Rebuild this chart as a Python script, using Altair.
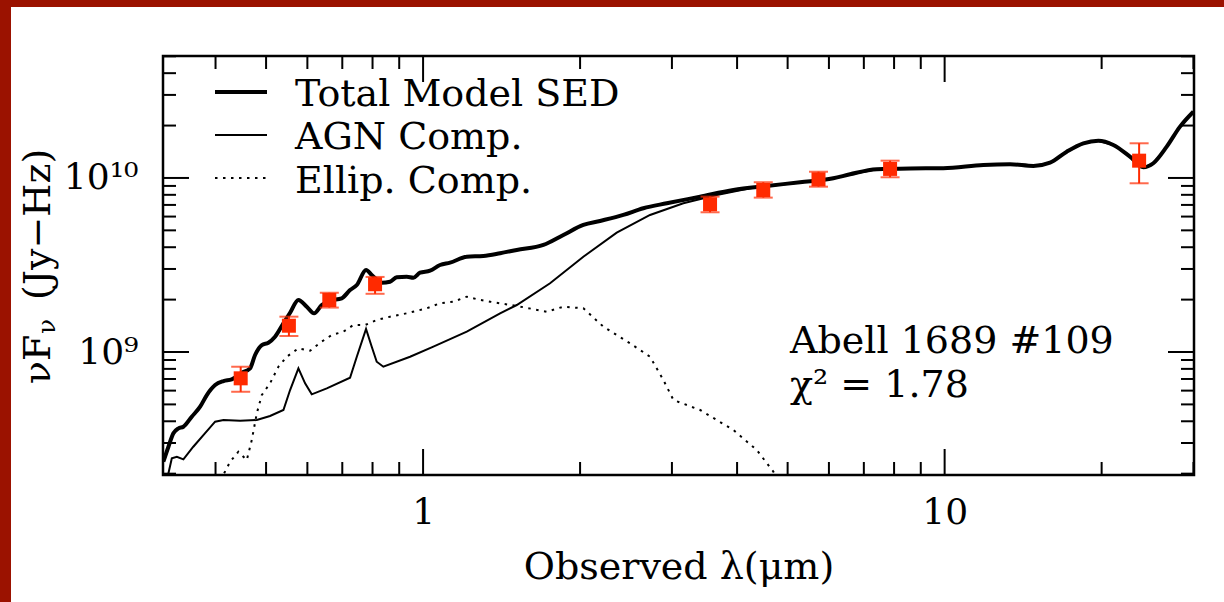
import altair as alt
import pandas as pd

# ---------------- data ----------------
tot_lam = [0.3177, 0.3249, 0.3321, 0.3396, 0.3471, 0.3601, 0.3737, 0.3849, 0.3993, 0.4143,
           0.4297, 0.4492, 0.4659, 0.4763, 0.4907, 0.5051, 0.5202, 0.5398, 0.5559, 0.5767,
           0.5984, 0.6180, 0.6393, 0.6633, 0.6983, 0.7244, 0.7463, 0.7774, 0.7972, 0.8332,
           0.8642, 0.8903, 0.9306, 0.9581, 0.9867, 1.0313, 1.0779, 1.1264, 1.2128, 1.3050,
           1.4049, 1.5122, 1.7008, 1.8578, 2.0291, 2.1842, 2.4210, 2.6449, 2.9324, 3.3973,
           3.9357, 4.5604, 5.2818, 6.1176, 6.5871, 7.4112, 8.5837, 9.9426, 11.866, 13.352,
           14.796, 15.926, 17.145, 18.450, 19.711, 21.060, 22.666, 24.044, 25.125, 26.659,
           28.271, 29.99]
tot_flux = [2.342e8, 2.856e8, 3.411e8, 3.643e8, 3.721e8, 4.249e8, 4.849e8, 5.660e8, 6.461e8, 6.812e8,
            6.967e8, 7.603e8, 8.059e8, 9.612e8, 1.097e9, 1.131e9, 1.224e9, 1.462e9, 1.682e9, 1.991e9,
            1.821e9, 1.669e9, 1.862e9, 1.972e9, 2.035e9, 2.271e9, 2.427e9, 2.960e9, 2.771e9, 2.502e9,
            2.535e9, 2.687e9, 2.709e9, 2.673e9, 2.856e9, 2.933e9, 3.162e9, 3.260e9, 3.529e9, 3.562e9,
            3.692e9, 3.857e9, 4.120e9, 4.703e9, 5.370e9, 5.661e9, 6.131e9, 6.697e9, 7.153e9, 7.807e9,
            8.531e9, 8.995e9, 9.447e9, 9.961e9, 1.050e10, 1.122e10, 1.134e10, 1.137e10, 1.188e10, 1.199e10,
            1.172e10, 1.224e10, 1.416e10, 1.582e10, 1.638e10, 1.548e10, 1.326e10, 1.152e10, 1.215e10, 1.513e10,
            1.972e10, 2.404e10]

agn_lam = [0.3249, 0.3298, 0.3372, 0.3471, 0.3626, 0.3791, 0.3993, 0.4143, 0.4458, 0.4799,
           0.5088, 0.5398, 0.5559, 0.5767, 0.5940, 0.6117, 0.6537, 0.7244, 0.7463, 0.7774,
           0.7972, 0.8149, 0.8391, 0.9442, 1.0465, 1.2128, 1.4049, 1.5122, 1.7518, 2.0291,
           2.3512, 2.7237, 3.1550, 3.6568, 4.2364, 4.5604, 5.2818, 6.1176, 6.5871, 7.4112,
           8.5837, 9.9426, 11.866, 13.352, 14.796, 15.926, 17.145, 18.450, 19.711, 21.060,
           22.666, 24.044, 25.125, 26.659, 28.271, 29.99]
agn_flux = [2.009e8, 2.449e8, 2.502e8, 2.417e8, 2.856e8, 3.334e8, 3.977e8, 4.067e8, 4.030e8, 4.067e8,
            4.288e8, 4.642e8, 6.046e8, 8.059e8, 6.610e8, 5.713e8, 6.186e8, 7.119e8, 9.397e8, 1.356e9,
            1.073e9, 8.796e8, 8.233e8, 9.397e8, 1.073e9, 1.308e9, 1.669e9, 1.862e9, 2.482e9, 3.529e9,
            4.848e9, 6.131e9, 7.153e9, 7.986e9, 8.726e9, 8.95e9, 9.42e9, 9.94e9, 1.048e10, 1.120e10,
            1.132e10, 1.135e10, 1.186e10, 1.197e10, 1.170e10, 1.222e10, 1.414e10, 1.580e10, 1.636e10, 1.546e10,
            1.324e10, 1.150e10, 1.213e10, 1.511e10, 1.970e10, 2.402e10]

ell_lam = [0.4155, 0.4266, 0.4424, 0.4592, 0.4694, 0.4799, 0.4907, 0.5088, 0.5280, 0.5479,
           0.5767, 0.6072, 0.6347, 0.6683, 0.7034, 0.7351, 0.7741, 0.8149, 0.8642, 0.9306,
           1.0165, 1.0779, 1.1432, 1.2128, 1.2863, 1.3444, 1.5122, 1.7267, 1.8578, 2.0291,
           2.2166, 2.4938, 2.7237, 2.8886, 3.0200, 3.3973, 3.9357, 4.3636, 4.6954, 4.836]
ell_flux = [2.009e8, 2.342e8, 2.673e8, 2.395e8, 3.122e8, 4.443e8, 5.660e8, 6.610e8, 8.233e8, 9.397e8,
            1.050e9, 1.017e9, 1.131e9, 1.252e9, 1.308e9, 1.429e9, 1.429e9, 1.527e9, 1.595e9, 1.669e9,
            1.783e9, 1.905e9, 1.946e9, 2.079e9, 1.991e9, 1.946e9, 1.839e9, 1.704e9, 1.821e9, 1.783e9,
            1.398e9, 1.122e9, 9.397e8, 6.905e8, 5.298e8, 4.642e8, 3.562e8, 2.734e8, 2.052e8, 1.72e8]

obs_lam = [0.447, 0.553, 0.661, 0.809, 3.55, 4.49, 5.73, 7.86, 23.6]
obs_flux = [7.06e8, 1.416e9, 1.99e9, 2.45e9, 7.06e9, 8.53e9, 9.83e9, 1.127e10, 1.257e10]
obs_lo = [5.91e8, 1.236e9, 1.80e9, 2.16e9, 6.35e9, 7.71e9, 8.91e9, 1.009e10, 9.32e9]
obs_hi = [8.23e8, 1.596e9, 2.19e9, 2.70e9, 7.81e9, 9.45e9, 1.086e10, 1.257e10, 1.582e10]

x_major = [1, 10]
x_minor = [0.4, 0.5, 0.6, 0.7, 0.8, 0.9, 2, 3, 4, 5, 6, 7, 8, 9, 20, 30]
y_major = [1e9, 1e10]
y_minor = [2e8, 3e8, 4e8, 5e8, 6e8, 7e8, 8e8, 9e8,
           2e9, 3e9, 4e9, 5e9, 6e9, 7e9, 8e9, 9e9,
           2e10, 3e10, 4e10, 5e10]

legend_labels = ["Total Model SED", "AGN Comp.", "Ellip. Comp."]
annot_lines = ["Abell 1689 #109", "χ² = 1.78"]
x_title = "Observed λ(μm)"

# ---------------- chart ----------------
W, H = 1031, 419
FONT = "DejaVu Serif"
RED = "#ff2a00"
FRAME_RED = "#9b1200"
FS = 36
FL = 38

xs = alt.Scale(type="log", domain=[0.3172, 30.07], nice=False)
ys = alt.Scale(type="log", domain=[1.965e8, 5.02e10], nice=False)

x_axis = alt.Axis(values=x_major, labelExpr="datum.value >= 10 ? '10' : '1'",
                  ticks=False, domain=False, grid=False, labelFont=FONT, labelFontSize=FS,
                  labelColor="black", labelPadding=20, labelBaseline="top",
                  labelFlush=False, labelOverlap=False,
                  title=x_title, titleFont=FONT, titleFontSize=FL, titleFontWeight="normal",
                  titleColor="black", titleX=W / 2, titleY=103, titleBaseline="alphabetic",
                  titleAlign="center")
y_axis = alt.Axis(values=y_major, labelExpr="datum.value >= 1e10 ? '10¹⁰' : '10⁹'",
                  ticks=False, domain=False, grid=False, labelFont=FONT, labelFontSize=FS,
                  labelColor="black", labelPadding=25, labelBaseline="middle",
                  labelFlush=False, labelOverlap=False, title="")

df_tot = pd.DataFrame({"lam": tot_lam, "flux": tot_flux})
df_agn = pd.DataFrame({"lam": agn_lam, "flux": agn_flux})
df_ell = pd.DataFrame({"lam": ell_lam, "flux": ell_flux})
df_obs = pd.DataFrame({"lam": obs_lam, "flux": obs_flux, "lo": obs_lo, "hi": obs_hi})
one = pd.DataFrame({"a": [0]})


def XQ(field):
    return alt.X(field, type="quantitative", scale=xs, axis=x_axis)


def YQ(field):
    return alt.Y(field, type="quantitative", scale=ys, axis=y_axis)


total = alt.Chart(df_tot).mark_line(color="black", strokeWidth=4, clip=True,
                                    strokeJoin="round", interpolate="monotone").encode(
    x=XQ("lam"), y=YQ("flux"))
agn = alt.Chart(df_agn).mark_line(color="black", strokeWidth=2, clip=True).encode(
    x=XQ("lam"), y=YQ("flux"))
ell = alt.Chart(df_ell).mark_line(color="black", strokeWidth=2, clip=True,
                                  strokeDash=[2.5, 5.5]).encode(x=XQ("lam"), y=YQ("flux"))

err = alt.Chart(df_obs).mark_rule(color=RED, strokeWidth=2).encode(
    x=XQ("lam"), y=YQ("lo"), y2="hi")
cap_lo = alt.Chart(df_obs).mark_tick(color=RED, orient="horizontal", size=19,
                                     thickness=2).encode(x=XQ("lam"), y=YQ("lo"))
cap_hi = alt.Chart(df_obs).mark_tick(color=RED, orient="horizontal", size=19,
                                     thickness=2).encode(x=XQ("lam"), y=YQ("hi"))
pts = alt.Chart(df_obs).mark_square(color=RED, size=196, opacity=1).encode(
    x=XQ("lam"), y=YQ("flux"))


def xticks(vals, length):
    d = pd.DataFrame({"v": vals})
    b = alt.Chart(d).mark_rule(color="black", strokeWidth=2).encode(
        x=XQ("v"), y=alt.value(H), y2=alt.value(H - length))
    t = alt.Chart(d).mark_rule(color="black", strokeWidth=2).encode(
        x=XQ("v"), y=alt.value(0), y2=alt.value(length))
    return [b, t]


def yticks(vals, length):
    d = pd.DataFrame({"v": vals})
    l = alt.Chart(d).mark_rule(color="black", strokeWidth=2).encode(
        y=YQ("v"), x=alt.value(0), x2=alt.value(length))
    r = alt.Chart(d).mark_rule(color="black", strokeWidth=2).encode(
        y=YQ("v"), x=alt.value(W), x2=alt.value(W - length))
    return [l, r]


ticks = xticks(x_major, 26) + xticks(x_minor, 13) + yticks(y_major, 26) + yticks(y_minor, 13)

# frame strips (dark red)
strip_left = alt.Chart(one).mark_rect(color=FRAME_RED).encode(
    x=alt.value(-163), x2=alt.value(-152), y=alt.value(-56), y2=alt.value(546))
strip_top = alt.Chart(one).mark_rect(color=FRAME_RED).encode(
    x=alt.value(-163), x2=alt.value(1061), y=alt.value(-56), y2=alt.value(-49))

# legend
leg_thick = alt.Chart(one).mark_rule(color="black", strokeWidth=4).encode(
    x=alt.value(52), x2=alt.value(104), y=alt.value(36))
leg_thin = alt.Chart(one).mark_rule(color="black", strokeWidth=2).encode(
    x=alt.value(52), x2=alt.value(104), y=alt.value(79))
leg_dot = alt.Chart(one).mark_rule(color="black", strokeWidth=2, strokeDash=[2.5, 5.5]).encode(
    x=alt.value(52), x2=alt.value(104), y=alt.value(122))


def txt(s, x, y, size=FL, angle=0, align="left"):
    m = alt.Chart(one).mark_text(font=FONT, fontSize=size, align=align,
                                 baseline="alphabetic", color="black", angle=angle)
    return m.encode(x=alt.value(x), y=alt.value(y), text=alt.value(s))


leg_t = [txt(legend_labels[0], 132, 50), txt(legend_labels[1], 132, 93),
         txt(legend_labels[2], 132, 137)]
ann = [txt(annot_lines[0], 627, 297), txt(annot_lines[1], 627, 341)]

# y title: nu F_nu (Jy-Hz), rotated
ytitle = [txt("νF", -113, 328, angle=270), txt("ν", -108, 278, size=25, angle=270),
          txt("(Jy−Hz)", -113, 244, angle=270)]

chart = alt.layer(
    strip_left, strip_top, ell, agn, total, err, cap_lo, cap_hi, pts,
    *ticks, leg_thick, leg_thin, leg_dot, *leg_t, *ann, *ytitle
).properties(
    width=W, height=H,
    autosize=alt.AutoSizeParams(type="none"),
    padding={"left": 163, "top": 56, "right": 30, "bottom": 127},
    background="white",
).configure_view(stroke="black", strokeWidth=2.5)

chart.save("out.html", embed_options={"renderer": "svg", "actions": False})
